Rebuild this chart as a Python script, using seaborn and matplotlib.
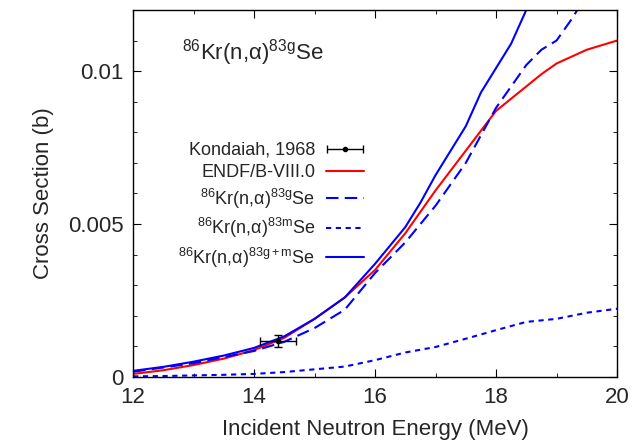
import numpy as np
import pandas as pd
import matplotlib
matplotlib.use('Agg')
import matplotlib.pyplot as plt
import seaborn as sns
from matplotlib.ticker import MultipleLocator, FuncFormatter
from matplotlib.legend_handler import HandlerErrorbar

# ENDF/B-VIII.0 evaluation
e_endf = [12, 12.5, 13, 13.5, 14, 14.5, 15, 15.5, 16, 16.5, 17, 17.5, 18, 18.5, 18.75, 19, 19.5, 20]
xs_endf = [0.0001, 0.00022, 0.00039, 0.0006, 0.00088, 0.00128, 0.0019, 0.0026, 0.0035, 0.0047,
           0.0061, 0.0074, 0.0087, 0.0095, 0.0099, 0.01025, 0.0107, 0.0110]

# 86Kr(n,a)83gSe
e_g = [12, 13, 14, 14.5, 15, 15.5, 16, 16.5, 17, 17.5, 18, 18.25, 18.5, 18.75, 19, 19.25, 19.5]
xs_g = [0.00017, 0.00045, 0.00085, 0.00115, 0.0016, 0.0022, 0.0034, 0.0044, 0.0056, 0.0070,
        0.0088, 0.0095, 0.0102, 0.0107, 0.0110, 0.0117, 0.0125]

# 86Kr(n,a)83mSe
e_m = [12, 12.5, 13, 13.5, 14, 14.5, 15, 15.5, 16, 16.5, 17, 17.5, 18, 18.5, 19, 19.5, 20]
xs_m = [0.00002, 0.00003, 0.00005, 0.00007, 0.0001, 0.00016, 0.00025, 0.00034, 0.00055, 0.0008,
        0.00098, 0.00125, 0.00153, 0.0018, 0.0019, 0.0021, 0.00223]

# 86Kr(n,a)83g+mSe
e_gm = [12, 12.5, 13, 13.5, 14, 14.5, 15, 15.5, 16, 16.5, 16.75, 17, 17.5, 17.75, 18.25, 18.5, 19]
xs_gm = [0.0002, 0.00033, 0.0005, 0.0007, 0.00095, 0.00133, 0.0019, 0.0026, 0.0037, 0.0049,
         0.0057, 0.0066, 0.0082, 0.0093, 0.0109, 0.0120, 0.0140]

# Kondaiah, 1968
exp_e = [14.4]
exp_de = [0.3]
exp_xs = [0.00117]
exp_dxs = [0.0002]

sns.set_style('ticks')
plt.rcParams['font.family'] = ['Liberation Sans', 'DejaVu Sans']
plt.rcParams['mathtext.fontset'] = 'custom'
plt.rcParams['mathtext.rm'] = 'Liberation Sans'
plt.rcParams['mathtext.it'] = 'Liberation Sans'

fig, ax = plt.subplots(figsize=(6.37, 4.44), dpi=100)
fig.subplots_adjust(left=0.209, right=0.9686, top=0.9775, bottom=0.151)

lbl_g = r'$^{86}$Kr(n,$\alpha$)$^{83\mathrm{g}}$Se'
lbl_m = r'$^{86}$Kr(n,$\alpha$)$^{83\mathrm{m}}$Se'
lbl_gm = r'$^{86}$Kr(n,$\alpha$)$^{83\mathrm{g+m}}$Se'

ax.errorbar(exp_e, exp_xs, xerr=exp_de, yerr=exp_dxs, fmt='o', color='black',
            ms=3, lw=1, capsize=3, zorder=5)
# legend proxy: horizontal error bar only
proxy = ax.errorbar([np.nan], [np.nan], xerr=[1], fmt='o', color='black', ms=3, lw=1,
                    capsize=3, label='Kondaiah, 1968')

sns.lineplot(x=e_endf, y=xs_endf, ax=ax, color='#ff0000', lw=1.5, label='ENDF/B-VIII.0')
sns.lineplot(x=e_g, y=xs_g, ax=ax, color='#0000ff', lw=1.5, label=lbl_g)
ax.lines[-1].set_dashes([6, 3])
sns.lineplot(x=e_m, y=xs_m, ax=ax, color='#0000ff', lw=1.5, label=lbl_m)
ax.lines[-1].set_dashes([2.5, 2.2])
sns.lineplot(x=e_gm, y=xs_gm, ax=ax, color='#0000ff', lw=1.5, label=lbl_gm)

ax.set_xlim(12, 20)
ax.set_ylim(0, 0.012)
ax.xaxis.set_major_locator(MultipleLocator(2))
ax.xaxis.set_minor_locator(MultipleLocator(1))
ax.yaxis.set_major_locator(MultipleLocator(0.005))
ax.yaxis.set_minor_locator(MultipleLocator(0.001))
ax.yaxis.set_major_formatter(FuncFormatter(lambda v, p: '%g' % v))
ax.tick_params(which='both', direction='in', top=True, right=True, labelsize=16,
               color='black', pad=7)
ax.tick_params(which='major', length=6)
ax.tick_params(which='minor', length=3)
for s in ax.spines.values():
    s.set_color('black')
    s.set_linewidth(1)

ax.set_xlabel('Incident Neutron Energy (MeV)', fontsize=16, labelpad=8)
ax.set_ylabel('Cross Section (b)', fontsize=16, labelpad=10)

ax.text(0.1, 0.885, lbl_g, transform=ax.transAxes, fontsize=16, ha='left', va='center')

handles, labels = ax.get_legend_handles_labels()
order = [labels.index('Kondaiah, 1968')] + [i for i, l in enumerate(labels) if l != 'Kondaiah, 1968']
leg = ax.legend([handles[i] for i in order], [labels[i] for i in order], loc='upper left',
                bbox_to_anchor=(0.06, 0.685), frameon=False, markerfirst=False, fontsize=13,
                handlelength=2.1, labelspacing=0.3, handletextpad=0.6,
                handler_map={type(proxy): HandlerErrorbar(xerr_size=1.0)})
for t in leg.get_texts():
    t.set_ha('right')

fig.savefig('out.png', dpi=100)
